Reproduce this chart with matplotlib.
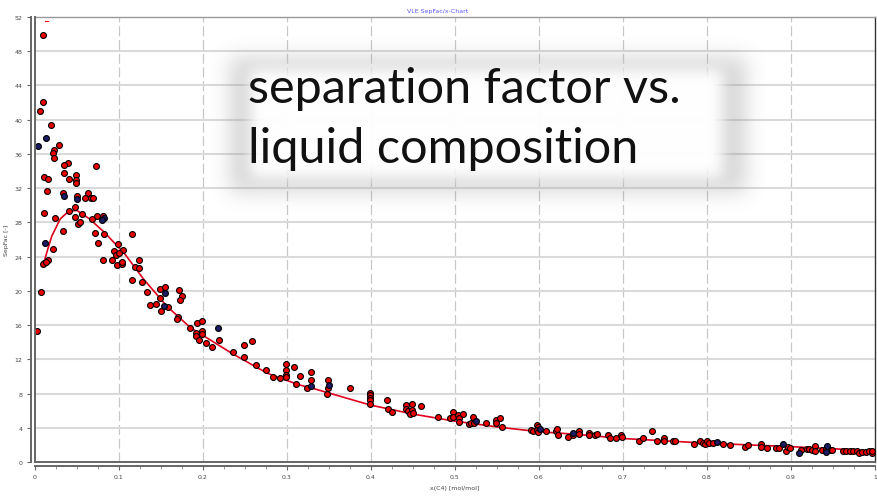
import numpy as np
import matplotlib
matplotlib.use("Agg")
import matplotlib.pyplot as plt
from matplotlib.ticker import MultipleLocator, FixedLocator

# Measured separation factors vs. liquid mole fraction of C4 (red points)
x_red = [0.009, 0.009, 0.006, 0.019, 0.029, 0.023, 0.021, 0.023, 0.073, 0.039,
         0.035, 0.034, 0.011, 0.015, 0.040, 0.049, 0.049, 0.049, 0.014, 0.033,
         0.050, 0.063, 0.060, 0.067, 0.069, 0.048, 0.011, 0.041, 0.056, 0.024,
         0.048, 0.074, 0.081, 0.068, 0.051, 0.053, 0.033, 0.071, 0.082, 0.115,
         0.075, 0.021, 0.094, 0.099, 0.105, 0.096, 0.100, 0.011, 0.010, 0.015,
         0.013, 0.081, 0.092, 0.098, 0.104, 0.103, 0.124, 0.119, 0.124, 0.116,
         0.127, 0.0075, 0.133, 0.137, 0.144, 0.149, 0.155, 0.149, 0.150, 0.158,
         0.171, 0.175, 0.173, 0.170, 0.169, 0.184, 0.193, 0.199,
         0.0024, 0.192, 0.192, 0.199, 0.199, 0.195, 0.204, 0.211, 0.219, 0.236,
         0.249, 0.249, 0.258, 0.263, 0.275, 0.283, 0.292, 0.299, 0.299, 0.299,
         0.299, 0.308, 0.311, 0.315,
         0.324, 0.329, 0.329, 0.349, 0.349, 0.348, 0.375, 0.399, 0.399, 0.399,
         0.399, 0.399, 0.419, 0.420, 0.425, 0.442, 0.442, 0.444, 0.449, 0.449,
         0.446, 0.450, 0.460, 0.480, 0.494, 0.498, 0.498, 0.504, 0.505, 0.505,
         0.509, 0.517, 0.519, 0.522, 0.523, 0.537, 0.549, 0.549, 0.553, 0.556,
         0.590, 0.593, 0.598, 0.599, 0.598, 0.599, 0.608, 0.620, 0.622, 0.623,
         0.635, 0.640, 0.648, 0.648,
         0.659, 0.660, 0.667, 0.669, 0.682, 0.685, 0.692, 0.698, 0.699, 0.719,
         0.724, 0.735, 0.740, 0.749, 0.749, 0.759, 0.762, 0.784, 0.792, 0.795,
         0.798, 0.800, 0.802, 0.807, 0.819, 0.827, 0.845, 0.849, 0.864, 0.864,
         0.872, 0.882, 0.886, 0.894, 0.897, 0.899, 0.912, 0.919, 0.921, 0.925,
         0.928, 0.929, 0.937, 0.942, 0.946, 0.949, 0.962, 0.966, 0.970, 0.974,
         0.978, 0.981, 0.985, 0.989, 0.993, 0.996, 0.997]
y_red = [49.9, 42.1, 41.0, 39.4, 37.0, 36.5, 36.1, 35.5, 34.6, 34.9,
         34.7, 33.8, 33.3, 33.1, 33.1, 33.5, 33.0, 32.6, 31.7, 31.4,
         31.1, 31.4, 30.9, 30.8, 30.8, 29.8, 29.1, 29.3, 29.0, 28.5,
         28.6, 28.8, 28.8, 28.4, 27.8, 28.0, 27.0, 26.8, 26.6, 26.6,
         25.6, 24.9, 24.7, 25.5, 24.8, 24.2, 24.4, 23.2, 23.1, 23.6,
         23.4, 23.6, 23.6, 23.0, 23.1, 23.4, 23.6, 22.8, 22.7, 21.3,
         21.0, 19.9, 19.9, 18.3, 18.5, 20.2, 20.5, 19.2, 17.7, 18.1,
         20.1, 19.4, 18.9, 16.9, 16.7, 15.7, 16.2, 16.5,
         15.3, 15.1, 14.7, 15.3, 15.0, 14.3, 13.9, 13.4, 14.2, 12.9,
         13.7, 12.3, 14.1, 11.3, 10.7, 9.9, 9.8, 11.4, 10.7, 10.2,
         9.9, 11.1, 9.1, 10.0,
         8.6, 10.5, 9.6, 9.6, 8.6, 7.9, 8.7, 8.1, 7.8, 7.5,
         7.2, 6.8, 7.2, 6.2, 5.8, 6.7, 6.2, 6.0, 6.8, 6.1,
         5.6, 5.7, 6.5, 5.3, 5.1, 5.8, 5.3, 5.5, 5.1, 4.7,
         5.6, 4.4, 4.6, 5.3, 4.5, 4.6, 4.9, 4.5, 5.2, 4.05,
         3.7, 3.6, 4.3, 4.05, 3.7, 3.5, 3.6, 3.6, 3.8, 3.1,
         2.95, 3.15, 3.65, 3.3,
         3.4, 3.2, 3.15, 3.3, 3.2, 2.75, 2.75, 3.15, 2.95, 2.5,
         2.8, 3.6, 2.4, 2.75, 2.4, 2.5, 2.45, 2.1, 2.4, 2.2,
         2.05, 2.4, 2.25, 2.2, 2.05, 2.0, 1.8, 2.0, 2.1, 1.8,
         1.65, 1.65, 1.65, 1.3, 1.7, 1.65, 1.45, 1.5, 1.5, 1.45,
         1.85, 1.3, 1.45, 1.5, 1.45, 1.4, 1.3, 1.3, 1.25, 1.3,
         1.3, 1.1, 1.15, 1.2, 1.25, 1.1, 1.3]

# Second data set (dark blue points)
x_blue = [0.013, 0.003, 0.035, 0.050, 0.082, 0.080, 0.012, 0.155, 0.154, 0.218,
          0.329, 0.350, 0.525, 0.601, 0.641, 0.812, 0.890, 0.910, 0.943, 0.942]
y_blue = [37.9, 36.9, 31.1, 30.7, 28.5, 28.3, 25.6, 19.7, 18.2, 15.7,
          8.9, 9.0, 4.8, 3.9, 3.35, 2.3, 2.05, 1.1, 1.9, 1.15]

# Correlation curve
fit_x = [0.010, 0.015, 0.020, 0.030, 0.040, 0.050, 0.056, 0.065, 0.083, 0.107,
         0.129, 0.157, 0.185, 0.236, 0.276, 0.292, 0.315, 0.331, 0.399, 0.450,
         0.498, 0.554, 0.599, 0.649, 0.699, 0.800, 0.899, 1.0]
fit_y = [23.1, 24.8, 26.4, 28.4, 29.3, 29.4, 29.0, 28.4, 26.8, 24.3,
         21.4, 18.2, 15.7, 12.6, 10.4, 9.8, 9.0, 8.6, 6.66, 5.6,
         4.8, 4.05, 3.55, 3.2, 2.75, 2.2, 1.8, 1.3]

x_ticks = [0, 0.1, 0.2, 0.3, 0.4, 0.5, 0.6, 0.7, 0.8, 0.9, 1]
x_tick_labels = ["0", "0.1", "0.2", "0.3", "0.4", "0.5", "0.6", "0.7", "0.8", "0.9", "1"]
y_ticks = list(range(0, 53, 4))

W, H = 877, 502
fig = plt.figure(figsize=(W / 100, H / 100), dpi=100)
fig.patch.set_facecolor("white")
ax = fig.add_axes([35 / W, 1 - 463 / H, 840 / W, 445 / H])

ax.set_xlim(0, 1)
ax.set_ylim(0, 52)

# grid: dashed verticals, solid horizontals
for xv in x_ticks[1:-1]:
    ax.axvline(xv, color="#c8c8c8", lw=0.9, ls=(0, (8, 3)), zorder=0)
for yv in y_ticks[1:-1]:
    ax.axhline(yv, color="#dadada", lw=1.5, zorder=0)

ax.plot(fit_x, fit_y, color="#e0001b", lw=1.2, zorder=2)
ax.scatter(x_red, y_red, s=18, c="#ee0000", edgecolors="black", linewidths=0.8, zorder=3)
ax.scatter(x_blue, y_blue, s=18, c="#1b1b66", edgecolors="black", linewidths=0.8, zorder=3)
ax.plot([0.012, 0.016], [51.5, 51.5], color="red", lw=0.8, zorder=3)

# axes frame
ax.spines["top"].set_color("#999999")
ax.spines["top"].set_linewidth(1.0)
ax.spines["right"].set_color("#333333")
ax.spines["right"].set_linewidth(1.0)
for side in ["left", "bottom"]:
    ax.spines[side].set_color("#666666")
    ax.spines[side].set_linewidth(1.4)
    ax.spines[side].set_position(("outward", 3))
ax.axvline(0, color="#666666", lw=1.4, clip_on=False, zorder=4)
ax.axhline(0, color="#666666", lw=1.4, clip_on=False, zorder=4)

ax.xaxis.set_major_locator(FixedLocator(x_ticks))
ax.set_xticklabels(x_tick_labels)
ax.xaxis.set_minor_locator(MultipleLocator(0.025))
ax.set_yticks(y_ticks)
ax.tick_params(axis="both", which="major", labelsize=4.5, labelcolor="#444444",
               color="#666666", length=3, width=0.8, pad=3)
ax.tick_params(axis="x", which="minor", color="#888888", length=2, width=0.6)

ax.set_xlabel("x(C4) [mol/mol]", fontsize=4.5, color="#444444", labelpad=4)
ax.set_ylabel("SepFac [-]", fontsize=4.5, color="#444444", labelpad=3)
ax.yaxis.set_label_coords(-10 / 840 * 2.6, 0.5)
fig.text(438 / W, 1 - 11 / H, "VLE SepFac/x-Chart", fontsize=4.5, color="#5a5aff",
         ha="center", va="center")


def blur(img, sigma):
    r = int(3 * sigma)
    k = np.exp(-0.5 * (np.arange(-r, r + 1) / sigma) ** 2)
    k /= k.sum()
    img = np.apply_along_axis(lambda v: np.convolve(v, k, mode="same"), 1, img)
    img = np.apply_along_axis(lambda v: np.convolve(v, k, mode="same"), 0, img)
    return img


# white caption box with a soft grey glow
yy, xx = np.mgrid[0:H, 0:W]
shadow = ((xx >= 230) & (xx <= 745) & (yy >= 58) & (yy <= 192)).astype(float)
shadow = blur(shadow, 10) * 0.32
inner = ((xx >= 250) & (xx <= 722) & (yy >= 70) & (yy <= 178)).astype(float)
inner = blur(inner, 7)
alpha = inner + shadow * (1 - inner)
grey = (inner + shadow * (1 - inner) * 0.5) / np.maximum(alpha, 1e-6)
rgba = np.dstack([grey, grey, grey, alpha])

over = fig.add_axes([0, 0, 1, 1], zorder=10)
over.imshow(rgba, extent=(0, W, H, 0), interpolation="bilinear")
over.set_xlim(0, W)
over.set_ylim(H, 0)
over.axis("off")

fig.text(248 / W, 1 - 103 / H, "separation factor vs.", fontsize=35, family="Lato",
         color="#111111", ha="left", va="baseline", zorder=20)
fig.text(248 / W, 1 - 163 / H, "liquid composition", fontsize=35, family="Lato",
         color="#111111", ha="left", va="baseline", zorder=20)

fig.savefig("out.png", dpi=100)
